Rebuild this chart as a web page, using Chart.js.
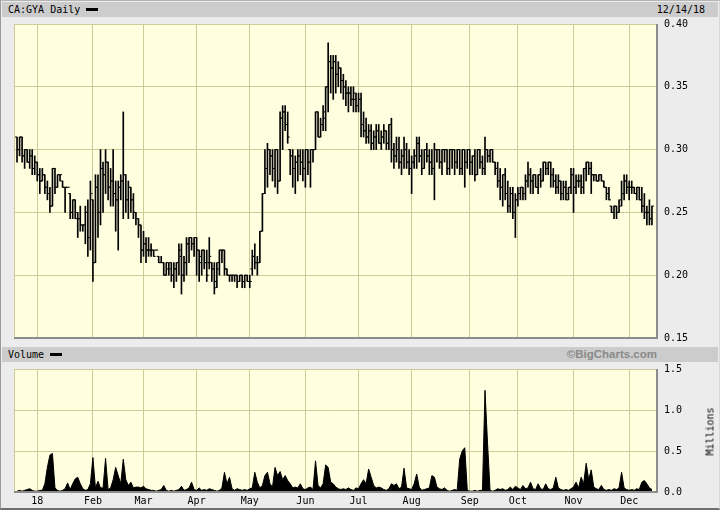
<!DOCTYPE html>
<html lang="en">
<head>
<meta charset="UTF-8">
<title>CA:GYA Daily</title>
<script src="https://cdn.jsdelivr.net/npm/chart.js@4.4.0"></script>
<style>
  body { margin: 0; background: #ffffff; }
  #wrap {
    position: relative;
    width: 718px;
    height: 507px;
    background: #ececec;
    border-top: 1px solid #b4b4b4;
    border-left: 1px solid #9a9a9a;
    border-right: 1px solid #d8d8d8;
    border-bottom: 2px solid #707070;
    overflow: hidden;
    font-family: "DejaVu Sans Mono", monospace;
    font-size: 10px;
    color: #000;
  }
  .hdr {
    position: absolute;
    left: 1px;
    width: 716px;
    height: 15px;
    background: #cccccc;
  }
  .hdr .txt { position: absolute; left: 6px; top: 2px; }
  .dash { position: absolute; width: 12px; height: 3px; background: #000; top: 6px; }
  .date { position: absolute; right: 13px; top: 2px; }
  .brand {
    position: absolute; right: 61px; top: 1px;
    font-family: "Liberation Sans", Arial, sans-serif;
    font-weight: bold; font-size: 11.5px; color: #8a8a8a;
  }
  .box { position: absolute; left: 0; width: 718px; }
  .millions {
    position: absolute; left: 679px; top: 425px;
    transform: rotate(-90deg);
    transform-origin: center;
    width: 60px; text-align: center;
  }
</style>
</head>
<body>
<div id="wrap">
  <div class="hdr" style="top:1px">
    <span class="txt">CA:GYA Daily</span>
    <span class="dash" style="left:84px"></span>
    <span class="date">12/14/18</span>
  </div>
  <div class="hdr" style="top:346px">
    <span class="txt">Volume</span>
    <span class="dash" style="left:48px"></span>
    <span class="brand">©BigCharts.com</span>
  </div>
  <div class="box" style="top:10px;height:340px"><canvas id="priceChart" width="718" height="340"></canvas></div>
  <div class="box" style="top:355px;height:152px"><canvas id="volumeChart" width="718" height="152"></canvas></div>
  <div class="millions">Millions</div>
</div>

<script>
  // month grid lines (trading-day index) and their labels
  const monthLabels = ['18', 'Feb', 'Mar', 'Apr', 'May', 'Jun', 'Jul', 'Aug', 'Sep', 'Oct', 'Nov', 'Dec'];
  const monthStarts = [8, 30, 50, 71, 92, 114, 135, 156, 179, 198, 220, 242];

  // daily bars, Dec 2017 - Dec 14 2018
  const openP = [
    .310,.300,.310,.295,.300,.290,.295,.285,.290,.280,
    .275,.280,.270,.265,.255,.285,.270,.280,.275,.270,
    .270,.265,.250,.260,.245,.245,.240,.240,.250,.230,
    .260,.210,.270,.250,.285,.280,.290,.270,.275,.265,
    .260,.270,.275,.280,.260,.270,.260,.250,.245,.240,
    .220,.225,.220,.220,.220,.220,.215,.210,.210,.200,
    .205,.210,.200,.205,.210,.215,.200,.210,.225,.230,
    .225,.230,.220,.215,.220,.210,.210,.210,.205,.195,
    .210,.220,.220,.205,.200,.200,.200,.200,.195,.200,
    .195,.200,.195,.205,.215,.210,.210,.235,.265,.285,
    .300,.295,.285,.300,.275,.325,.330,.320,.300,.295,
    .285,.290,.295,.290,.285,.300,.290,.300,.300,.330,
    .310,.320,.325,.350,.370,.365,.370,.360,.365,.355,
    .350,.345,.345,.340,.340,.335,.340,.320,.315,.310,
    .315,.305,.310,.315,.305,.310,.315,.305,.320,.300,
    .295,.300,.290,.295,.300,.290,.285,.290,.295,.305,
    .295,.285,.300,.295,.290,.285,.300,.300,.290,.300,
    .300,.285,.300,.300,.290,.300,.285,.300,.290,.300,
    .290,.295,.280,.300,.290,.285,.300,.295,.300,.290,
    .285,.275,.270,.280,.265,.255,.265,.250,.260,.265,
    .270,.265,.275,.280,.275,.280,.270,.280,.275,.290,
    .285,.290,.280,.275,.270,.275,.265,.270,.265,.270,
    .280,.270,.275,.275,.270,.285,.290,.285,.280,.280,
    .275,.280,.275,.270,.265,.255,.250,.255,.250,.260,
    .265,.275,.270,.270,.270,.265,.270,.260,.255,.250,
    .250,.245
  ];
  const highP = [
    .310,.310,.310,.300,.300,.300,.300,.295,.290,.285,
    .285,.280,.275,.270,.285,.285,.280,.280,.275,.270,
    .270,.265,.260,.260,.250,.255,.240,.255,.260,.275,
    .260,.280,.280,.300,.290,.300,.290,.285,.300,.275,
    .275,.280,.330,.280,.275,.270,.265,.250,.245,.240,
    .235,.230,.230,.225,.220,.220,.215,.215,.210,.210,
    .210,.210,.210,.210,.225,.225,.215,.230,.230,.230,
    .230,.230,.220,.220,.220,.220,.230,.210,.210,.210,
    .220,.220,.220,.205,.200,.200,.200,.200,.200,.200,
    .200,.200,.200,.220,.225,.215,.235,.265,.300,.305,
    .300,.300,.300,.300,.330,.335,.335,.330,.300,.300,
    .295,.300,.300,.300,.300,.300,.300,.300,.330,.330,
    .325,.335,.350,.385,.375,.375,.375,.370,.365,.360,
    .355,.350,.350,.350,.345,.345,.345,.330,.325,.320,
    .320,.315,.320,.320,.315,.320,.315,.320,.325,.305,
    .310,.310,.300,.310,.305,.300,.295,.300,.310,.310,
    .300,.300,.305,.300,.300,.305,.300,.300,.300,.300,
    .300,.300,.300,.300,.300,.300,.300,.300,.300,.300,
    .295,.300,.300,.300,.295,.310,.300,.300,.300,.290,
    .290,.285,.280,.285,.275,.270,.270,.265,.270,.270,
    .270,.280,.290,.285,.280,.280,.280,.285,.290,.290,
    .290,.290,.285,.280,.280,.275,.275,.275,.270,.285,
    .285,.280,.280,.280,.285,.290,.290,.290,.280,.280,
    .280,.280,.275,.270,.270,.255,.255,.255,.260,.275,
    .280,.280,.275,.275,.270,.270,.270,.270,.265,.255,
    .260,.255
  ];
  const lowP = [
    .290,.295,.290,.285,.290,.285,.280,.280,.275,.265,
    .275,.265,.260,.250,.255,.265,.270,.275,.270,.250,
    .270,.245,.245,.245,.230,.235,.235,.225,.215,.220,
    .195,.210,.230,.240,.250,.265,.260,.255,.255,.235,
    .220,.260,.245,.250,.245,.250,.245,.240,.230,.210,
    .215,.210,.215,.215,.215,.220,.210,.210,.200,.200,
    .200,.195,.190,.195,.200,.185,.195,.200,.210,.220,
    .215,.200,.195,.200,.205,.195,.205,.195,.185,.190,
    .200,.210,.200,.200,.195,.195,.195,.190,.195,.190,
    .190,.195,.190,.200,.205,.200,.210,.235,.265,.270,
    .280,.275,.270,.265,.275,.300,.315,.305,.280,.270,
    .265,.275,.280,.275,.270,.280,.270,.290,.300,.310,
    .310,.315,.315,.330,.345,.340,.345,.350,.345,.340,
    .335,.330,.335,.330,.330,.330,.310,.310,.305,.305,
    .300,.300,.300,.305,.300,.305,.300,.300,.290,.285,
    .290,.285,.280,.285,.285,.280,.265,.285,.285,.290,
    .280,.285,.290,.280,.280,.260,.290,.285,.280,.290,
    .280,.280,.285,.280,.285,.280,.280,.270,.285,.280,
    .280,.275,.280,.285,.280,.280,.290,.290,.290,.280,
    .270,.260,.255,.260,.250,.250,.245,.230,.255,.260,
    .260,.260,.270,.265,.265,.270,.265,.270,.275,.280,
    .280,.270,.270,.265,.265,.260,.260,.260,.260,.265,
    .250,.265,.270,.265,.265,.275,.280,.265,.275,.275,
    .275,.275,.270,.260,.260,.250,.245,.245,.250,.255,
    .260,.265,.260,.265,.265,.260,.260,.250,.245,.240,
    .240,.240
  ];
  const closeP = [
    .300,.310,.295,.300,.290,.295,.285,.290,.280,.275,
    .280,.270,.265,.255,.285,.270,.280,.280,.270,.270,
    .270,.250,.260,.250,.245,.240,.240,.250,.230,.265,
    .210,.270,.250,.285,.280,.290,.270,.275,.265,.260,
    .270,.275,.280,.260,.270,.260,.250,.245,.240,.220,
    .225,.220,.220,.220,.215,.220,.210,.210,.200,.210,
    .205,.200,.205,.210,.220,.200,.210,.225,.230,.225,
    .230,.220,.210,.220,.210,.200,.215,.205,.190,.205,
    .220,.220,.205,.200,.200,.200,.200,.195,.200,.195,
    .200,.195,.195,.215,.210,.210,.235,.265,.285,.300,
    .295,.285,.300,.275,.325,.330,.320,.310,.295,.285,
    .290,.295,.290,.285,.300,.290,.300,.300,.330,.310,
    .320,.330,.350,.370,.365,.370,.360,.365,.355,.350,
    .345,.345,.340,.345,.335,.340,.320,.315,.310,.315,
    .305,.310,.315,.305,.310,.315,.305,.320,.300,.295,
    .300,.290,.295,.300,.290,.285,.290,.295,.305,.295,
    .285,.300,.295,.290,.285,.300,.300,.290,.300,.300,
    .285,.300,.300,.290,.300,.285,.300,.290,.300,.290,
    .295,.280,.300,.290,.285,.300,.295,.300,.290,.285,
    .275,.270,.280,.265,.255,.265,.250,.260,.265,.270,
    .265,.275,.280,.275,.280,.270,.280,.275,.290,.285,
    .290,.280,.275,.270,.275,.265,.270,.260,.270,.280,
    .270,.275,.275,.270,.285,.290,.285,.280,.280,.275,
    .280,.275,.270,.265,.260,.250,.255,.250,.255,.265,
    .275,.270,.270,.270,.265,.270,.260,.255,.250,.250,
    .245,.255
  ];
  // volume, millions of shares
  const volume = [
    0.01,0.02,0.01,0.02,0.03,0.04,0.02,0.01,0.01,0.02,
    0.02,0.10,0.30,0.45,0.47,0.05,0.02,0.01,0.02,0.04,
    0.11,0.03,0.10,0.16,0.18,0.10,0.04,0.02,0.03,0.10,
    0.42,0.05,0.13,0.05,0.05,0.41,0.03,0.05,0.15,0.30,
    0.20,0.10,0.40,0.15,0.08,0.12,0.05,0.06,0.06,0.05,
    0.07,0.04,0.03,0.02,0.02,0.01,0.02,0.03,0.08,0.02,
    0.01,0.02,0.01,0.02,0.03,0.07,0.02,0.03,0.05,0.12,
    0.03,0.02,0.05,0.02,0.03,0.02,0.04,0.03,0.02,0.01,
    0.02,0.05,0.24,0.10,0.18,0.04,0.02,0.04,0.03,0.02,
    0.03,0.02,0.04,0.05,0.24,0.12,0.05,0.08,0.20,0.24,
    0.10,0.06,0.30,0.20,0.25,0.15,0.20,0.14,0.10,0.05,
    0.06,0.05,0.10,0.04,0.03,0.05,0.06,0.03,0.38,0.08,
    0.05,0.10,0.33,0.30,0.12,0.10,0.06,0.04,0.03,0.04,
    0.03,0.05,0.03,0.02,0.05,0.04,0.10,0.15,0.10,0.28,
    0.18,0.08,0.05,0.06,0.05,0.03,0.02,0.04,0.10,0.08,
    0.10,0.04,0.06,0.29,0.05,0.04,0.03,0.10,0.22,0.06,
    0.02,0.03,0.04,0.05,0.20,0.18,0.06,0.04,0.03,0.05,
    0.02,0.01,0.02,0.03,0.02,0.40,0.50,0.54,0.02,0.01,
    0.01,0.02,0.01,0.02,0.02,1.24,0.60,0.02,0.01,0.02,
    0.04,0.03,0.04,0.02,0.03,0.06,0.03,0.07,0.05,0.03,
    0.08,0.04,0.05,0.12,0.04,0.03,0.10,0.04,0.03,0.10,
    0.04,0.03,0.05,0.18,0.05,0.03,0.02,0.03,0.02,0.04,
    0.06,0.12,0.05,0.18,0.10,0.35,0.15,0.27,0.06,0.04,
    0.03,0.08,0.03,0.02,0.03,0.02,0.04,0.03,0.05,0.24,
    0.05,0.03,0.02,0.03,0.02,0.04,0.03,0.12,0.14,0.10,
    0.05,0.03
  ];

  const gridColor = '#cccc99';
  const tickFont = { family: 'DejaVu Sans Mono', size: 10 };

  // yellow plot area with a grey shadow on the bottom and right
  const plotFrame = {
    id: 'plotFrame',
    beforeDraw(chart) {
      const { ctx, chartArea: a } = chart;
      ctx.save();
      ctx.fillStyle = '#ffffe0';
      ctx.fillRect(a.left, a.top, a.right - a.left, a.bottom - a.top);
      ctx.restore();
    },
    afterDraw(chart) {
      const { ctx, chartArea: a } = chart;
      ctx.save();
      ctx.strokeStyle = gridColor;
      ctx.lineWidth = 1;
      ctx.beginPath();
      ctx.moveTo(a.left + 0.5, a.bottom);
      ctx.lineTo(a.left + 0.5, a.top + 0.5);
      ctx.lineTo(a.right, a.top + 0.5);
      ctx.stroke();
      ctx.strokeStyle = '#8c8c8c';
      ctx.lineWidth = 2;
      ctx.beginPath();
      ctx.moveTo(a.left, a.bottom);
      ctx.lineTo(a.right, a.bottom);
      ctx.lineTo(a.right, a.top);
      ctx.stroke();
      ctx.restore();
    }
  };

  function monthAxis(showLabels, height) {
    return {
      type: 'linear',
      min: -1.2,
      max: 253,
      offset: false,
      afterBuildTicks: scale => { scale.ticks = monthStarts.map(v => ({ value: v })); },
      afterFit: scale => { scale.height = height; },
      grid: { color: gridColor, drawTicks: false, offset: false },
      border: { display: false },
      ticks: {
        display: showLabels,
        autoSkip: false,
        maxRotation: 0,
        padding: 3,
        color: '#000',
        font: tickFont,
        callback: (v, i) => monthLabels[i]
      }
    };
  }

  const days = closeP.map((c, i) => i);

  new Chart(document.getElementById('priceChart'), {
    type: 'bar',
    data: {
      datasets: [
        {
          type: 'bar',
          data: days.map(i => ({ x: i, y: [lowP[i], highP[i]] })),
          backgroundColor: '#000',
          barThickness: 1,
          borderWidth: 0
        },
        {
          type: 'line',
          data: days.map(i => ({ x: i - 0.4, y: openP[i] })),
          showLine: false,
          pointStyle: 'line',
          pointRadius: 1,
          borderColor: '#000',
          borderWidth: 1
        },
        {
          type: 'line',
          data: days.map(i => ({ x: i + 0.4, y: closeP[i] })),
          showLine: false,
          pointStyle: 'line',
          pointRadius: 1,
          borderColor: '#000',
          borderWidth: 1
        }
      ]
    },
    options: {
      responsive: false,
      animation: false,
      events: [],
      layout: { padding: { left: 13, top: 5, right: 0, bottom: 0 } },
      plugins: { legend: { display: false }, tooltip: { enabled: false } },
      scales: {
        x: monthAxis(false, 5),
        y: {
          position: 'right',
          min: 0.15,
          max: 0.40,
          afterFit: scale => { scale.width = 62; },
          grid: { color: gridColor, drawTicks: false },
          border: { display: false },
          ticks: {
            stepSize: 0.05,
            padding: 7,
            color: '#000',
            font: tickFont,
            callback: v => v.toFixed(2)
          }
        }
      }
    },
    plugins: [plotFrame]
  });

  new Chart(document.getElementById('volumeChart'), {
    type: 'line',
    data: {
      datasets: [{
        data: days.map(i => ({ x: i, y: volume[i] })),
        borderColor: '#000',
        backgroundColor: '#000',
        borderWidth: 1,
        pointRadius: 0,
        tension: 0,
        fill: 'origin'
      }]
    },
    options: {
      responsive: false,
      animation: false,
      events: [],
      layout: { padding: { left: 13, top: 7, right: 0, bottom: 0 } },
      plugins: { legend: { display: false }, tooltip: { enabled: false } },
      scales: {
        x: monthAxis(true, 16),
        y: {
          position: 'right',
          min: 0,
          max: 1.5,
          afterFit: scale => { scale.width = 62; },
          grid: { color: gridColor, drawTicks: false },
          border: { display: false },
          ticks: {
            stepSize: 0.5,
            padding: 7,
            color: '#000',
            font: tickFont,
            callback: v => v.toFixed(1)
          }
        }
      }
    },
    plugins: [plotFrame]
  });
</script>
</body>
</html>
